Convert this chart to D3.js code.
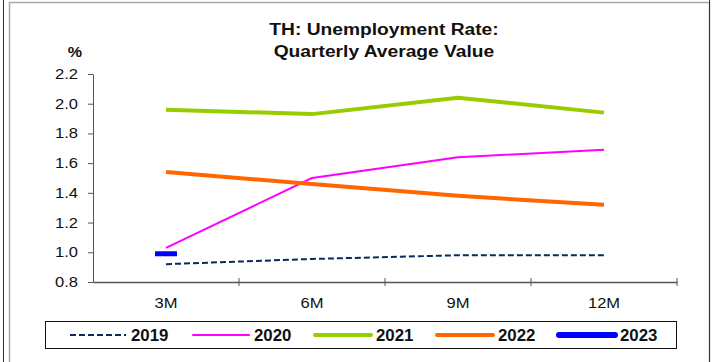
<!DOCTYPE html>
<html>
<head>
<meta charset="utf-8">
<script src="https://cdn.jsdelivr.net/npm/d3@7"></script>
<style>
  html, body { margin: 0; padding: 0; background: #fff; }
  svg { display: block; font-family: Arial, "Liberation Sans", sans-serif; }
</style>
</head>
<body>
<svg id="chart" width="712" height="362"></svg>
<script>
// Quarterly average unemployment rate, Thailand (%)
const categories = ["3M", "6M", "9M", "12M"];
const yTicks = [0.8, 1.0, 1.2, 1.4, 1.6, 1.8, 2.0, 2.2];
const years = ["2019", "2020", "2021", "2022", "2023"];
const v2019 = [0.92, 0.955, 0.98, 0.98];
const v2020 = [1.03, 1.50, 1.64, 1.69];
const v2021 = [1.96, 1.93, 2.04, 1.94];
const v2022 = [1.54, 1.46, 1.38, 1.32];
const v2023 = [0.99];

const seriesStyle = {
  "2019": { color: "#0b2a5c", width: 2, dash: "6,3" },
  "2020": { color: "#ff00ff", width: 2, dash: null },
  "2021": { color: "#99cc00", width: 4, dash: null },
  "2022": { color: "#ff6600", width: 4, dash: null },
  "2023": { color: "#0000ff", width: 6, dash: null }
};
const seriesValues = { "2019": v2019, "2020": v2020, "2021": v2021, "2022": v2022, "2023": v2023 };

const svg = d3.select("#chart");

// widen glyphs horizontally to the chart's broad lettering
function widen(sel, k) {
  sel.each(function () {
    const w = this.getComputedTextLength();
    this.setAttribute("textLength", (w * k).toFixed(1));
    this.setAttribute("lengthAdjust", "spacingAndGlyphs");
  });
}

// outer frame
svg.append("line").attr("x1", 3.5).attr("x2", 3.5).attr("y1", 0).attr("y2", 362)
  .attr("stroke", "#333").attr("stroke-width", 1);
svg.append("rect").attr("x", 9.5).attr("y", 2.5).attr("width", 700).attr("height", 370)
  .attr("fill", "none").attr("stroke", "#aaa").attr("stroke-width", 1.5);
svg.append("line").attr("x1", 709.5).attr("x2", 709.5).attr("y1", 0).attr("y2", 362)
  .attr("stroke", "#333").attr("stroke-width", 1);

const plot = { left: 93, right: 677, top: 74, bottom: 282 };

const x = d3.scaleBand().domain(categories).range([plot.left, plot.right]);
const y = d3.scaleLinear().domain([0.8, 2.2]).range([plot.bottom, plot.top]);
const cx = c => x(c) + x.bandwidth() / 2;

// title
const t1 = svg.append("text").attr("x", 384).attr("y", 35).attr("text-anchor", "middle")
  .attr("font-size", 16).attr("font-weight", "bold").attr("fill", "#111")
  .text("TH: Unemployment Rate:");
const t2 = svg.append("text").attr("x", 384).attr("y", 56.5).attr("text-anchor", "middle")
  .attr("font-size", 16).attr("font-weight", "bold").attr("fill", "#111")
  .text("Quarterly Average Value");
widen(t1, 1.2);
widen(t2, 1.2);
const pct = svg.append("text").attr("x", 75).attr("y", 57).attr("text-anchor", "middle")
  .attr("font-size", 14).attr("font-weight", "bold").attr("fill", "#111").text("%");
widen(pct, 1.15);

// y axis
const yAxis = d3.axisLeft(y).tickValues(yTicks).tickFormat(d3.format(".1f"))
  .tickSize(5).tickSizeOuter(0);
const gy = svg.append("g").attr("transform", `translate(${plot.left},0)`).call(yAxis);
gy.select(".domain").attr("stroke", "#555");
gy.selectAll(".tick line").attr("stroke", "#555");
gy.selectAll(".tick text").attr("font-size", 14).attr("fill", "#111")
  .attr("font-family", "Arial, 'Liberation Sans', sans-serif").attr("x", -15);
widen(gy.selectAll(".tick text"), 1.18);

// x axis: ticks between categories
const xAxis = d3.axisBottom(x).tickSize(0).tickSizeOuter(0);
const gx = svg.append("g").attr("transform", `translate(0,${plot.bottom})`).call(xAxis);
gx.select(".domain").attr("stroke", "#555").attr("stroke-width", 1.5);
gx.selectAll(".tick text").attr("font-size", 14).attr("fill", "#111")
  .attr("font-family", "Arial, 'Liberation Sans', sans-serif").attr("dy", "0").attr("y", 26);
widen(gx.selectAll(".tick text"), 1.18);
const boundaries = categories.slice(1).map(c => x(c)).concat([plot.right]);
gx.selectAll(".sep").data(boundaries).enter().append("line")
  .attr("x1", d => d).attr("x2", d => d).attr("y1", -4).attr("y2", 4)
  .attr("stroke", "#555");

// series lines
const line = d3.line().x((d, i) => cx(categories[i])).y(d => y(d));
years.forEach(yr => {
  const vals = seriesValues[yr];
  const st = seriesStyle[yr];
  if (vals.length > 1) {
    svg.append("path").datum(vals).attr("d", line)
      .attr("fill", "none").attr("stroke", st.color).attr("stroke-width", st.width)
      .attr("stroke-dasharray", st.dash).attr("stroke-linejoin", "round");
  } else {
    // single point drawn as a dash marker
    svg.append("rect")
      .attr("x", cx(categories[0]) - 11).attr("y", y(vals[0]) - 2.5)
      .attr("width", 22).attr("height", 5).attr("fill", st.color);
  }
});

// legend
svg.append("rect").attr("x", 45.5).attr("y", 321.5).attr("width", 631).attr("height", 27)
  .attr("fill", "#fff").attr("stroke", "#111").attr("stroke-width", 1);
const legendX = [70, 193, 315, 437, 559];
years.forEach((yr, i) => {
  const st = seriesStyle[yr];
  svg.append("line").attr("x1", legendX[i]).attr("x2", legendX[i] + 56)
    .attr("y1", 335).attr("y2", 335)
    .attr("stroke", st.color).attr("stroke-width", yr === "2023" ? 6 : st.width)
    .attr("stroke-dasharray", st.dash)
    .attr("stroke-linecap", st.dash ? "butt" : "round");
  const lt = svg.append("text").attr("x", legendX[i] + 61).attr("y", 341)
    .attr("font-size", 16).attr("font-weight", "bold").attr("fill", "#111").text(yr);
  widen(lt, 1.05);
});
</script>
</body>
</html>
